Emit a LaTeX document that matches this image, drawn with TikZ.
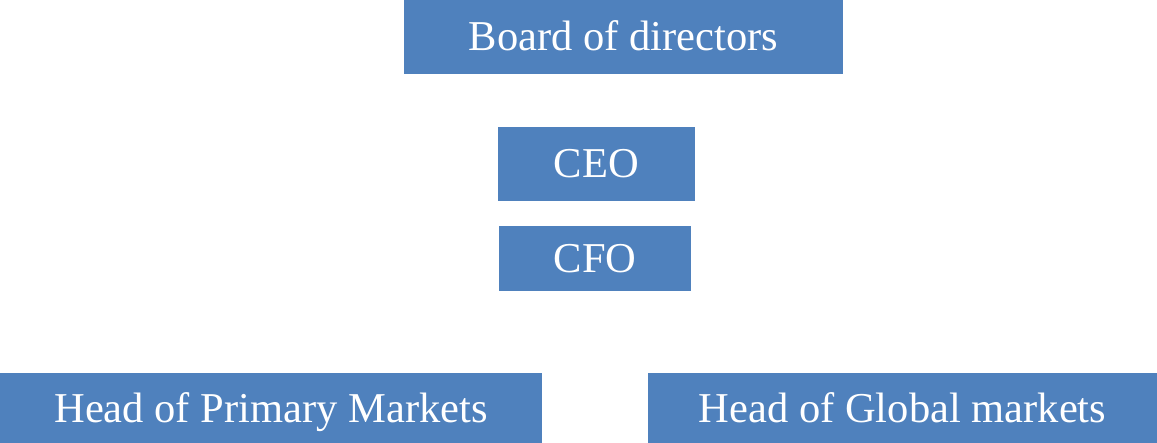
\documentclass[tikz,border=0pt]{standalone}
\usepackage{fontspec}
\setmainfont{Liberation Serif}
\definecolor{boxblue}{RGB}{79,129,189}

\begin{document}
\begin{tikzpicture}[post/.style={fill=boxblue, text=white, inner sep=0pt, outer sep=0pt,
        font=\fontsize{24.2pt}{29pt}\selectfont, text height=16pt, text depth=0pt}]
    \useasboundingbox (0,0) rectangle (23.14,-8.86);
    \node[post, minimum width=8.77cm, minimum height=1.47cm] (board) at (12.47,-0.737) {Board of directors};
    \node[post, minimum width=3.94cm, minimum height=1.47cm] (ceo) at (11.93,-3.277) {CEO};
    \node[post, minimum width=3.84cm, minimum height=1.29cm] (cfo) at (11.90,-5.167) {CFO};
    \node[post, minimum width=10.84cm, minimum height=1.40cm] (primary) at (5.42,-8.16) {Head of Primary Markets};
    \node[post, minimum width=10.18cm, minimum height=1.40cm] (global) at (18.05,-8.16) {Head of Global markets};
    \end{tikzpicture}
\end{document}
